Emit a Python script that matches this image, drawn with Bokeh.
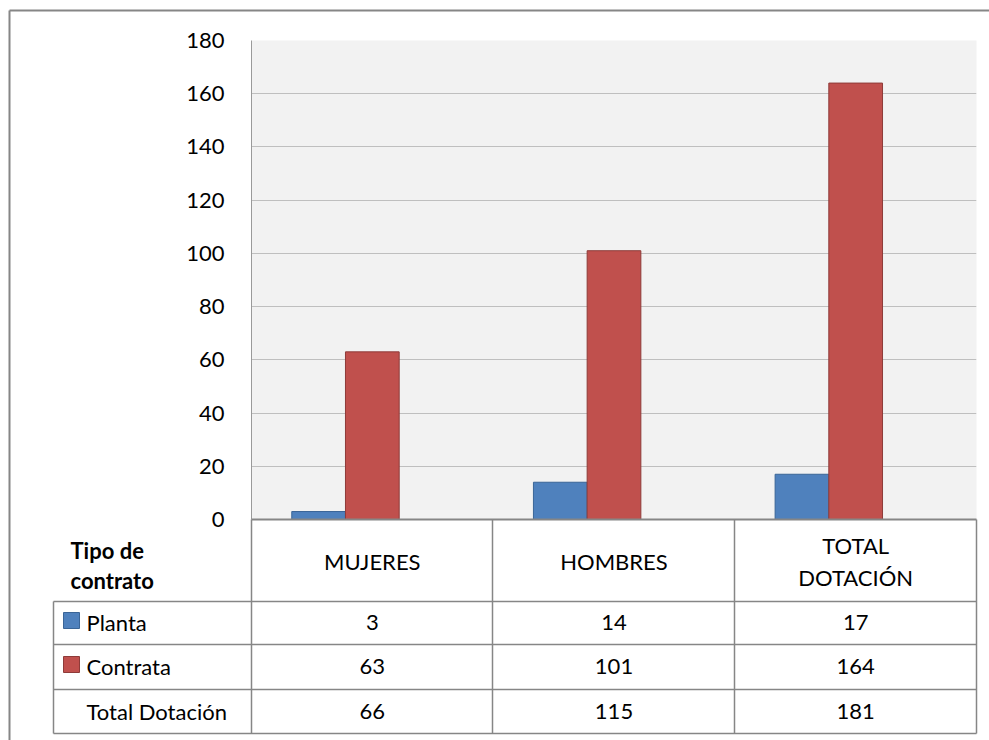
from bokeh.plotting import figure
from bokeh.models import Range1d, FactorRange, FixedTicker, ColumnDataSource
from bokeh.transform import dodge
from bokeh.core.properties import value
from bokeh.embed import file_html
from bokeh.resources import INLINE

# ---------------- data ----------------
categories = ["MUJERES", "HOMBRES", "TOTAL DOTACIÓN"]
header_labels = ["MUJERES", "HOMBRES", "TOTAL\nDOTACIÓN"]
planta = [3, 14, 17]
contrata = [63, 101, 164]
total_dotacion = [66, 115, 181]
series_names = ["Planta", "Contrata", "Total Dotación"]
y_ticks = [0, 20, 40, 60, 80, 100, 120, 140, 160, 180]
table_title = "Tipo de\ncontrato"

# ---------------- style ----------------
BLUE, BLUE_EDGE = "#4F81BD", "#3A6597"
RED, RED_EDGE = "#C0504D", "#8E3B39"
GRID = "#BFBFBF"
TABLE_LINE = "#868686"
FONT = value("Lato")
FS = "22px"

W, H = 989, 740
FL, FR, FT, FB = 251, 976, 40, 519   # plot-area frame in figure pixels
CAT_PX = (FR - FL) / len(categories)


def sx(px):
    """figure pixel x -> synthetic categorical coordinate"""
    return (px - FL) / CAT_PX


p = figure(width=W, height=H,
           x_range=FactorRange(*categories, range_padding=0),
           y_range=Range1d(0, 180),
           output_backend="svg", toolbar_location=None,
           min_border_left=FL, min_border_right=W - FR,
           min_border_top=FT, min_border_bottom=H - FB)
# pixel-like vertical coordinate system for the data table under the plot area
p.extra_y_ranges = {"px": Range1d(FB, FT)}

p.background_fill_color = "#F2F2F2"
p.border_fill_color = "white"
p.outline_line_color = None

p.xaxis.visible = False
p.xgrid.visible = False
p.ygrid.ticker = FixedTicker(ticks=y_ticks)
p.ygrid.grid_line_color = GRID
p.ygrid.grid_line_width = 1

ax = p.yaxis[0]
ax.ticker = FixedTicker(ticks=y_ticks)
ax.axis_line_color = "#9A9A9A"
ax.axis_line_width = 1
ax.major_tick_line_color = None
ax.minor_tick_line_color = None
ax.major_label_text_font = "Lato"
ax.major_label_text_font_size = FS
ax.major_label_text_color = "black"
ax.major_label_standoff = 21

# ---------------- bars ----------------
n_slots = 3
bar_w = 1.0 / (n_slots + 1.5)
src = ColumnDataSource(dict(cat=categories, planta=planta, contrata=contrata,
                            total=total_dotacion,
                            planta_t=[str(v) for v in planta],
                            contrata_t=[str(v) for v in contrata],
                            total_t=[str(v) for v in total_dotacion]))
p.vbar(x=dodge("cat", -bar_w, range=p.x_range), top="planta", width=bar_w,
       source=src, fill_color=BLUE, line_color=BLUE_EDGE, line_width=1)
p.vbar(x=dodge("cat", 0, range=p.x_range), top="contrata", width=bar_w,
       source=src, fill_color=RED, line_color=RED_EDGE, line_width=1)

# ---------------- data table ----------------
col_edges = [sx(v) for v in (251, 492, 734, 976)]
row_lines = [601, 644, 689, 733]
left_x = sx(53)
row_mid = [622, 666, 711]

kw = dict(y_range_name="px", level="overlay")
# outer chart frame
p.segment(x0=[sx(9), sx(9)], y0=[10, 10], x1=[sx(989), sx(9)], y1=[10, 740],
          line_color=TABLE_LINE, line_width=2, **kw)
# table top (category axis line)
p.segment(x0=[sx(FL)], y0=[FB], x1=[sx(FR)], y1=[FB], line_color=TABLE_LINE, line_width=2, **kw)
# verticals
p.segment(x0=col_edges, y0=[FB] * 4, x1=col_edges, y1=[row_lines[-1]] * 4,
          line_color=TABLE_LINE, line_width=1.5, **kw)
p.segment(x0=[left_x], y0=[row_lines[0]], x1=[left_x], y1=[row_lines[-1]],
          line_color=TABLE_LINE, line_width=1.5, **kw)
# horizontals
p.segment(x0=[left_x] * 4, y0=row_lines, x1=[sx(FR)] * 4, y1=row_lines,
          line_color=TABLE_LINE, line_width=1.5, **kw)

txt = dict(text_font=FONT, text_font_size=FS, text_color="black",
           text_baseline="middle", level="overlay", y_range_name="px")
# header
p.text(x=categories, y=[561] * 3, text=header_labels, text_align="center",
       text_line_height=1.17, **txt)
p.text(x=[sx(70)], y=[565], text=[table_title], text_align="left", text_font_style="bold",
       text_line_height=1.13, **txt)
# values
for col, y in zip(["planta_t", "contrata_t", "total_t"], row_mid):
    p.text(x="cat", y=y, text=col, source=src, text_align="center", **txt)
# row labels
p.text(x=[sx(86)] * 3, y=row_mid, text=series_names, text_align="left", **txt)
# legend keys
p.rect(x=[sx(71)] * 2, y=[620, 664], width=16, height=16,
       width_units="screen", height_units="screen", fill_color=[BLUE, RED],
       line_color=[BLUE_EDGE, RED_EDGE], line_width=1, **kw)

html = file_html(p, INLINE, title="chart")
html = html.replace("</head>", "<style>html,body{overflow:hidden;}</style></head>", 1)
open("out.html", "w").write(html)
